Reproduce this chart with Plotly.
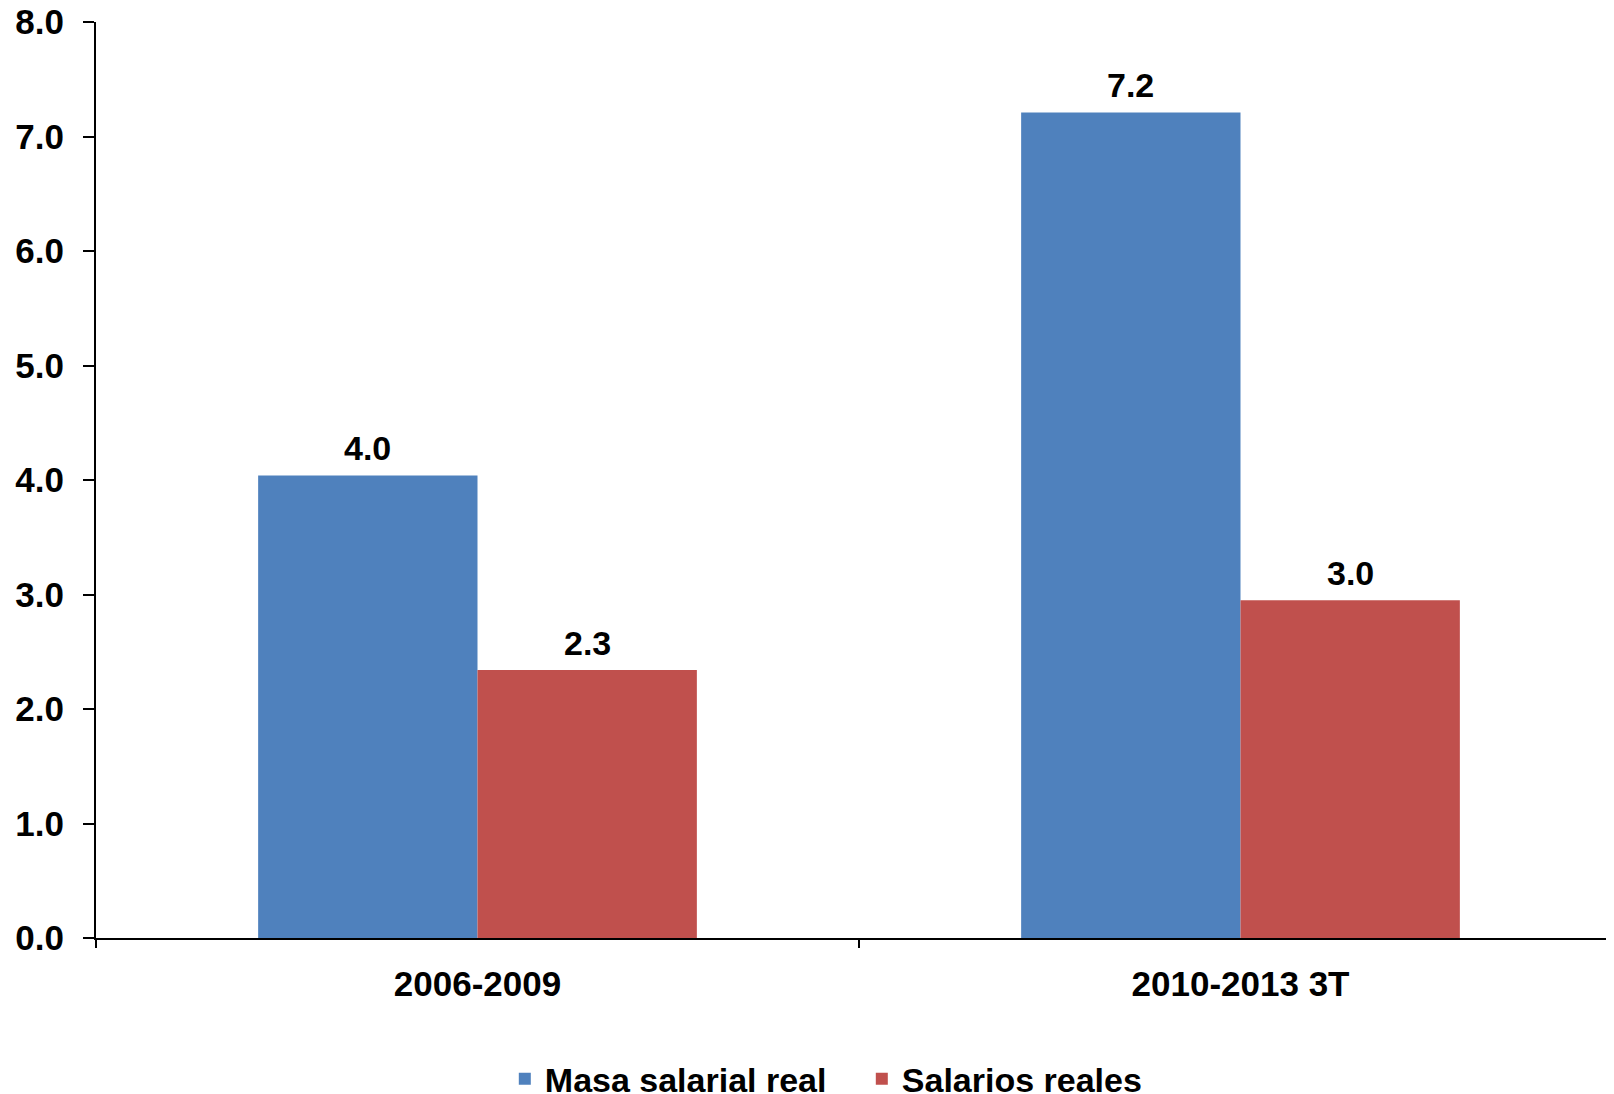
import plotly.graph_objects as go

periods = ["2006-2009", "2010-2013 3T"]
masa_salarial = [4.04, 7.21]
salarios_reales = [2.34, 2.95]
y_ticks = [0, 1, 2, 3, 4, 5, 6, 7, 8]

FONT = "Liberation Sans, Arial, sans-serif"

fig = go.Figure()
fig.add_trace(go.Bar(x=periods, y=masa_salarial, name="Masa salarial real",
                     marker=dict(color="#4F81BD", line_width=0)))
fig.add_trace(go.Bar(x=periods, y=salarios_reales, name="Salarios reales",
                     marker=dict(color="#C0504D", line_width=0)))

# data labels above each bar
for vals, shift in [(masa_salarial, -110), (salarios_reales, 110)]:
    for p, v in zip(periods, vals):
        fig.add_annotation(x=p, y=v, text=f"{v:.1f}", showarrow=False,
                           xshift=shift, yshift=6, yanchor="bottom",
                           font=dict(family=FONT, size=34, color="black", weight="bold"))

# page body adds an 8px offset, so margins are shifted to compensate
fig.update_layout(
    width=1614, height=1094,
    margin=dict(l=88, r=0, t=14, b=164, autoexpand=False),
    paper_bgcolor="white", plot_bgcolor="white",
    barmode="group", bargap=0.425, bargroupgap=0,
    showlegend=True,
    legend=dict(orientation="h", xref="container", yref="container",
                x=0.529, xanchor="center", y=0.021, yanchor="middle",
                font=dict(family=FONT, size=34, color="black", weight="bold"),
                itemwidth=30, tracegroupgap=0,
                entrywidth=312, entrywidthmode="pixels"),
)
fig.update_yaxes(range=[0, 8], tickvals=y_ticks, tickformat=".1f",
                 showgrid=False, zeroline=False, ticklabeloverflow="allow",
                 showline=True, linecolor="black", linewidth=2,
                 ticks="outside", ticklen=11, tickwidth=2, tickcolor="black",
                 ticklabelstandoff=12,
                 tickfont=dict(family=FONT, size=35, color="black", weight="bold"))
fig.update_xaxes(showgrid=False, showline=True, linecolor="black", linewidth=2,
                 ticks="outside", tickson="boundaries", ticklen=8, tickwidth=2,
                 tickcolor="black", ticklabelstandoff=14,
                 tickfont=dict(family=FONT, size=35, color="black", weight="bold"))

fig.write_html("out.html")
